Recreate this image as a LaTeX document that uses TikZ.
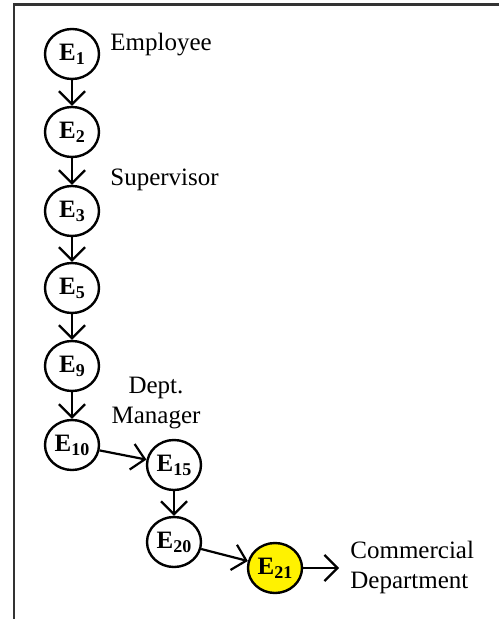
\documentclass[tikz,border=0pt]{standalone}
\usepackage{fontspec}
\setmainfont{Liberation Serif}
\usetikzlibrary{arrows.meta,shapes.geometric}

% Label of a state: bold E with a lowered bold index
\newcommand\elab[1]{{\fontsize{12.5}{13}\selectfont\textbf{E}}\raisebox{-2pt}{\fontsize{9}{10}\selectfont\textbf{#1}}}

\tikzset{
  state/.style={ellipse, draw, line width=1.2pt, minimum width=27pt, minimum height=25pt, inner sep=0pt},
  flow/.style={line width=1.1pt, -{Straight Barb[length=6.5pt,width=13pt,line width=1.1pt]}},
  role/.style={font=\fontsize{12.5}{15}\selectfont, inner sep=0pt},
  frame/.style={line width=1.1pt, black!80}
}

\begin{document}
\begin{tikzpicture}[x=0.5pt, y=-0.5pt]
  \useasboundingbox (0,0) rectangle (499,619);

  % open frame: top and left edges only
  \draw[frame] (499,4.5) -- (14,4.5) -- (14,619);

  % states
  \node[state] (e1)  at (72,54)   {\elab{1}};
  \node[state] (e2)  at (72,132)  {\elab{2}};
  \node[state] (e3)  at (72,211)  {\elab{3}};
  \node[state] (e5)  at (72,288)  {\elab{5}};
  \node[state] (e9)  at (72,366)  {\elab{9}};
  \node[state] (e10) at (72,445)  {\elab{10}};
  \node[state] (e15) at (174,465) {\elab{15}};
  \node[state] (e20) at (174,542) {\elab{20}};
  \node[state, fill=yellow] (e21) at (275,568) {\elab{21}};
  \coordinate (out) at (339,568);

  % role labels
  \node[role, anchor=west] (lemp) at (110,45)  {Employee};
  \node[role, anchor=west] (lsup) at (110,180) {Supervisor};
  \node[role, align=center] (lmgr) at (156,403) {Dept.\\Manager};
  \node[role, align=left, anchor=west] (lcom) at (350,567) {Commercial\\Department};

  % escalation path
  \draw[flow] (e1) -- (e2);
  \draw[flow] (e2) -- (e3);
  \draw[flow] (e3) -- (e5);
  \draw[flow] (e5) -- (e9);
  \draw[flow] (e9) -- (e10);
  \draw[flow] (e10) -- (e15);
  \draw[flow] (e15) -- (e20);
  \draw[flow] (e20) -- (e21);
  \draw[flow] (e21) -- (out);
\end{tikzpicture}
\end{document}
